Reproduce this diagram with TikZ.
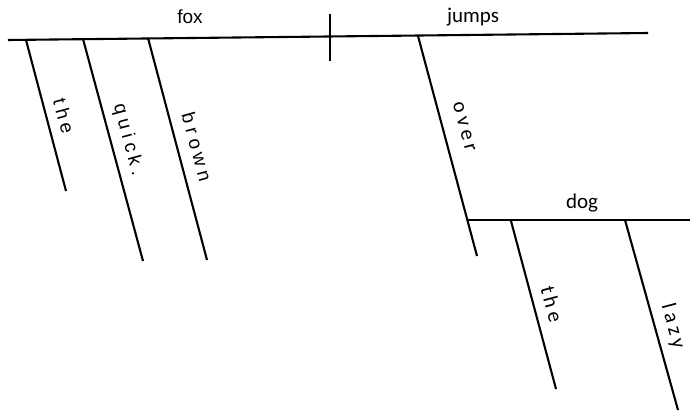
\documentclass[tikz,border=0pt]{standalone}
\usepackage{fontspec}
\setmainfont{Liberation Sans}
\newfontfamily\calfont{Carlito}
\newcommand{\lsp}{\hspace{0.25em}}
\newcommand{\rsp}{\hspace{0.2em}}
\begin{document}
\begin{tikzpicture}[x=0.5pt,y=-0.5pt,
  rule/.style={line width=1.05pt},
  lword/.style={font=\fontsize{9.5}{11}\selectfont,inner sep=0pt},
  rword/.style={font=\calfont\fontsize{10.5}{12}\selectfont,inner sep=0pt},
  slant/.style={rotate=-75}]
\useasboundingbox (0,0) rectangle (690,413);
% main line
\coordinate (mL) at (8,40);
\coordinate (mR) at (648,33);
\draw[rule] (mL) -- (mR);
\coordinate (dT) at (330,14);
\coordinate (dB) at (330,61);
\draw[rule] (dT) -- (dB);
\node[lword] (fox) at (190,17) {fox};
\node[rword] (jumps) at (473,17) {jumps};
% modifiers of fox
\coordinate (t1a) at (26,40);  \coordinate (t1b) at (66,191);
\coordinate (qa) at (83,39);   \coordinate (qb) at (143,261);
\coordinate (ba) at (148,38);  \coordinate (bb) at (207,260);
\draw[rule] (t1a) -- (t1b);
\draw[rule] (qa) -- (qb);
\draw[rule] (ba) -- (bb);
\node[lword,slant] (the1) at (64,116) {t\lsp h\lsp e};
\node[lword,slant] (quick) at (128,140) {q\lsp u\lsp i\lsp c\lsp k\lsp .};
\node[lword,slant] (brown) at (197,147) {b\lsp r\lsp o\lsp w\lsp n};
% prepositional phrase
\coordinate (oa) at (418,36);  \coordinate (ob) at (477,256);
\draw[rule] (oa) -- (ob);
\node[rword,slant] (over) at (464,127) {o\rsp v\rsp e\rsp r};
\coordinate (gL) at (468,220); \coordinate (gR) at (690,220);
\draw[rule] (gL) -- (gR);
\node[rword] (dog) at (582,203) {dog};
\coordinate (t2a) at (511,221); \coordinate (t2b) at (556,389);
\coordinate (la) at (625,220);  \coordinate (lb) at (678,410);
\draw[rule] (t2a) -- (t2b);
\draw[rule] (la) -- (lb);
\node[rword,slant] (the2) at (552,304) {t\rsp h\rsp e};
\node[rword,slant] (lazy) at (673,326) {l\rsp a\rsp z\rsp y};
\end{tikzpicture}
\end{document}
